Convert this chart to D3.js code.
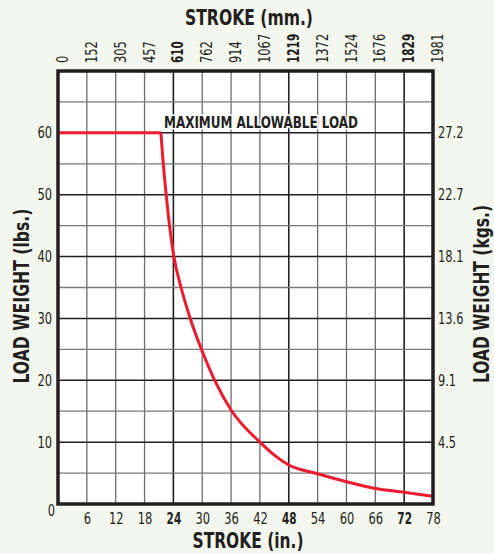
<!DOCTYPE html>
<html>
<head>
<meta charset="utf-8">
<script src="https://cdn.jsdelivr.net/npm/d3@7"></script>
<style>
  body { margin: 0; background: #f4f7ee; }
  svg { display: block; font-family: "Liberation Sans Narrow", "Arial Narrow", "DejaVu Sans Condensed", sans-serif; }
  .tick text { fill: #231f20; }
</style>
</head>
<body>
<svg width="494" height="554"></svg>
<script>
// stroke (in.) vs max load (lbs.)
const strokeIn = [0, 21.4, 21.9, 22.5, 23.2, 24.1, 25.6, 27.5, 30, 32.6, 36, 42, 45, 48, 54, 60, 66, 72, 78];
const loadLbs = [60, 60, 55, 50, 45, 40, 35, 30, 24.7, 20, 15.2, 10, 7.9, 6.3, 4.9, 3.6, 2.5, 1.9, 1.25];

const inTicks = [6, 12, 18, 24, 30, 36, 42, 48, 54, 60, 66, 72, 78];
const mmTicks = [0, 6, 12, 18, 24, 30, 36, 42, 48, 54, 60, 66, 72, 78];
const mmLabels = ['0', '152', '305', '457', '610', '762', '914', '1067', '1219', '1372', '1524', '1676', '1829', '1981'];
const lbsTicks = [10, 20, 30, 40, 50, 60];
const kgLabels = ['4.5', '9.1', '13.6', '18.1', '22.7', '27.2'];
const boldIn = [24, 48, 72];

const svg = d3.select('svg');
const width = +svg.attr('width');
const height = +svg.attr('height');

const margin = { top: 71, right: 61, bottom: 50, left: 58 };
const innerWidth = width - margin.left - margin.right;
const innerHeight = height - margin.top - margin.bottom;

const ink = '#231f20';

const xScale = d3.scaleLinear().domain([0, 78]).range([0, innerWidth]);
const yScale = d3.scaleLinear().domain([0, 70]).range([innerHeight, 0]);

// the condensed face is squeezed to the narrow digits of the original
const labelLength = s => Array.from(s).reduce((w, c) => w + (c === '.' ? 3.5 : 7.3), 0);
const squeeze = sel => sel
    .attr('textLength', function () { return labelLength(this.textContent); })
    .attr('lengthAdjust', 'spacingAndGlyphs');

const g = svg.append('g')
    .attr('transform', `translate(${margin.left}, ${margin.top})`);

g.append('rect')
    .attr('width', innerWidth)
    .attr('height', innerHeight)
    .attr('fill', '#fff');

// grid
g.selectAll('.vline').data(d3.range(6, 78, 6))
    .enter().append('line')
    .attr('x1', d => xScale(d)).attr('x2', d => xScale(d))
    .attr('y1', 0).attr('y2', innerHeight)
    .attr('stroke', d => boldIn.includes(d) ? ink : '#6d6d6d')
    .attr('stroke-width', d => boldIn.includes(d) ? 1.6 : 1.3);

g.selectAll('.hline').data(d3.range(5, 70, 5))
    .enter().append('line')
    .attr('x1', 0).attr('x2', innerWidth)
    .attr('y1', d => yScale(d)).attr('y2', d => yScale(d))
    .attr('stroke', d => d % 10 === 0 ? ink : '#7a7a7a')
    .attr('stroke-width', d => d % 10 === 0 ? 1.5 : 1.3);

// axes
const fs = 16;

const bottomAxis = g.append('g')
    .attr('transform', `translate(0, ${innerHeight})`)
    .call(d3.axisBottom(xScale).tickValues(inTicks).tickSize(0).tickPadding(9));
bottomAxis.selectAll('text')
    .attr('font-weight', d => boldIn.includes(d) ? 'bold' : 'normal');

const topAxis = g.append('g')
    .call(d3.axisTop(xScale).tickValues(mmTicks).tickSize(0)
        .tickFormat((d, i) => mmLabels[i]));
topAxis.selectAll('text')
    .attr('text-anchor', 'start')
    .attr('transform', 'rotate(-90)')
    .attr('x', 8).attr('y', 0).attr('dy', '0.6em')
    .attr('font-weight', d => boldIn.includes(d) ? 'bold' : 'normal');

const leftAxis = g.append('g')
    .call(d3.axisLeft(yScale).tickValues(lbsTicks).tickSize(0).tickPadding(6));

const rightAxis = g.append('g')
    .attr('transform', `translate(${innerWidth}, 0)`)
    .call(d3.axisRight(yScale).tickValues(lbsTicks).tickSize(0).tickPadding(5)
        .tickFormat((d, i) => kgLabels[i]));

[bottomAxis, topAxis, leftAxis, rightAxis].forEach(a => {
    a.attr('font-family', null).attr('font-size', fs);
    a.select('.domain').remove();
    squeeze(a.selectAll('text'));
});

g.append('text')
    .attr('x', -3).attr('y', innerHeight + 12)
    .attr('text-anchor', 'end')
    .attr('font-size', fs)
    .attr('fill', ink)
    .call(squeeze)
    .text('0')
    .call(squeeze);

// curve
const curveRed = '#ec1c2e';

const flatLine = d3.line()
    .x((d, i) => xScale(strokeIn[i]))
    .y(d => yScale(d));

g.append('path')
    .attr('d', flatLine(loadLbs.slice(0, 2)))
    .attr('fill', 'none')
    .attr('stroke', curveRed)
    .attr('stroke-width', 3);

const dropLine = d3.line()
    .x((d, i) => xScale(strokeIn[i + 1]))
    .y(d => yScale(d))
    .curve(d3.curveMonotoneX);

g.append('path')
    .attr('d', dropLine(loadLbs.slice(1)))
    .attr('fill', 'none')
    .attr('stroke', curveRed)
    .attr('stroke-width', 3)
    .attr('stroke-linejoin', 'round');

g.append('text')
    .attr('x', 203).attr('y', yScale(60) - 5)
    .attr('text-anchor', 'middle')
    .attr('font-size', 16)
    .attr('font-weight', 'bold')
    .attr('textLength', 194)
    .attr('lengthAdjust', 'spacingAndGlyphs')
    .attr('fill', ink)
    .attr('stroke', '#fff')
    .attr('stroke-width', 3)
    .attr('paint-order', 'stroke')
    .text('MAXIMUM ALLOWABLE LOAD');

// frame
g.append('rect')
    .attr('width', innerWidth)
    .attr('height', innerHeight)
    .attr('fill', 'none')
    .attr('stroke', ink)
    .attr('stroke-width', 3.5);

// titles
svg.append('text')
    .attr('x', 249).attr('y', 25)
    .attr('text-anchor', 'middle')
    .attr('font-size', 21).attr('font-weight', 'bold')
    .attr('textLength', 128).attr('lengthAdjust', 'spacingAndGlyphs')
    .attr('fill', ink)
    .text('STROKE (mm.)');

svg.append('text')
    .attr('x', 248).attr('y', 548)
    .attr('text-anchor', 'middle')
    .attr('font-size', 21).attr('font-weight', 'bold')
    .attr('textLength', 111).attr('lengthAdjust', 'spacingAndGlyphs')
    .attr('fill', ink)
    .text('STROKE (in.)');

svg.append('text')
    .attr('transform', 'translate(29, 296) rotate(-90)')
    .attr('text-anchor', 'middle')
    .attr('font-size', 21).attr('font-weight', 'bold')
    .attr('textLength', 175).attr('lengthAdjust', 'spacingAndGlyphs')
    .attr('fill', ink)
    .text('LOAD WEIGHT (lbs.)');

svg.append('text')
    .attr('transform', 'translate(489, 294) rotate(-90)')
    .attr('text-anchor', 'middle')
    .attr('font-size', 21).attr('font-weight', 'bold')
    .attr('textLength', 178).attr('lengthAdjust', 'spacingAndGlyphs')
    .attr('fill', ink)
    .text('LOAD WEIGHT (kgs.)');
</script>
</body>
</html>
